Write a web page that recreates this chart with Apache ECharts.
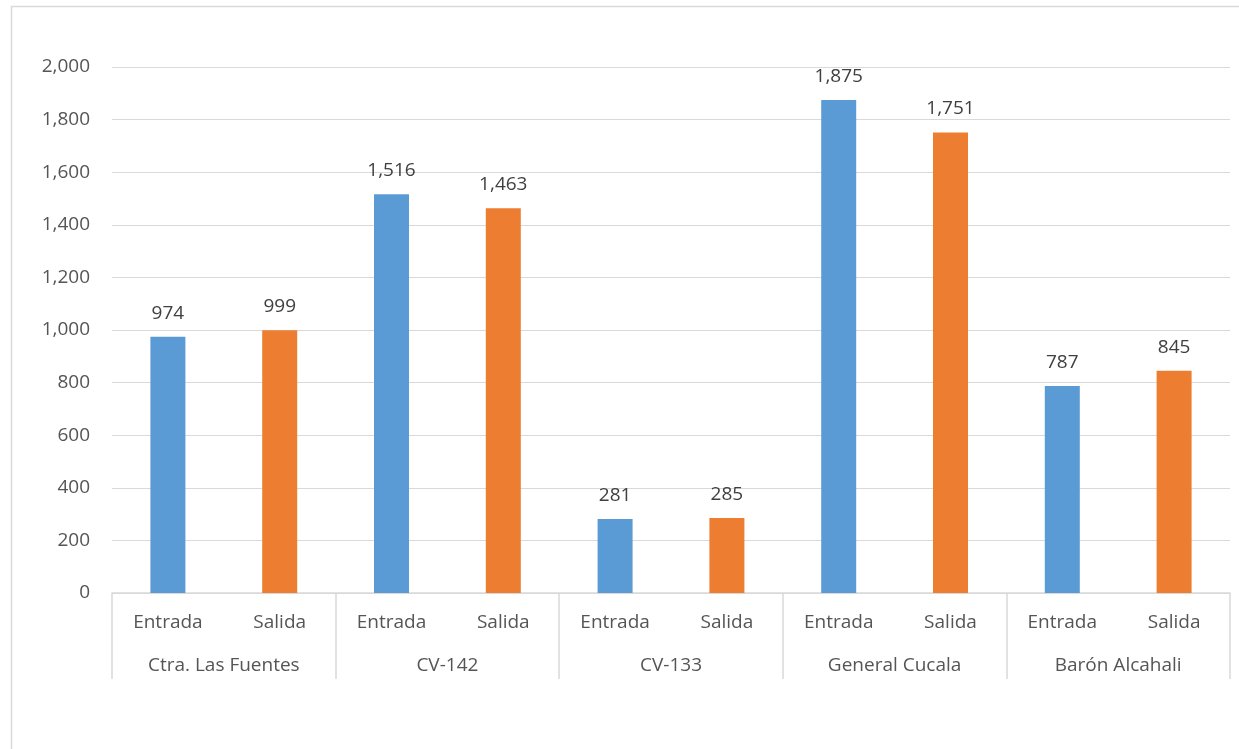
<!DOCTYPE html>
<html>
<head>
<meta charset="utf-8">
<script src="https://cdn.jsdelivr.net/npm/echarts@6/dist/echarts.min.js"></script>
<style>
html,body{margin:0;padding:0;background:#fff;}
#chart{width:1239px;height:749px;}
</style>
</head>
<body>
<div id="chart"></div>
<script>
const subCategories = ['Entrada','Salida','Entrada','Salida','Entrada','Salida','Entrada','Salida','Entrada','Salida'];
const groups = ['Ctra. Las Fuentes','CV-142','CV-133','General Cucala','Barón Alcahali'];
const values = [974, 999, 1516, 1463, 281, 285, 1875, 1751, 787, 845];
const yTicks = [0, 200, 400, 600, 800, 1000, 1200, 1400, 1600, 1800, 2000];

const BLUE = '#5B9BD5', ORANGE = '#ED7D31';
const FONT = '"Open Sans", sans-serif';
const fmt = v => Number(v).toLocaleString('en-US');

const chart = echarts.init(document.getElementById('chart'), null, {renderer: 'canvas'});
chart.setOption({
  animation: false,
  backgroundColor: '#fff',
  graphic: [{
    type: 'rect', silent: true,
    shape: {x: 11.5, y: 6.5, width: 1400, height: 900},
    style: {fill: 'none', stroke: '#D9D9D9', lineWidth: 1.5}
  }],
  grid: {left: 112, right: 9, top: 67, bottom: 156, containLabel: false},
  xAxis: [{
    type: 'category',
    data: subCategories,
    position: 'bottom',
    axisLine: {show: true, lineStyle: {color: '#D9D9D9', width: 1.5}},
    axisTick: {show: false},
    axisLabel: {interval: 0, margin: 20, color: '#555555', fontFamily: FONT, fontSize: 19}
  }, {
    type: 'category',
    data: groups,
    position: 'bottom',
    offset: 0,
    axisLine: {show: false},
    axisTick: {show: true, length: 86, interval: 0, lineStyle: {color: '#D9D9D9', width: 1.5}},
    axisLabel: {interval: 0, margin: 63, color: '#555555', fontFamily: FONT, fontSize: 19},
    splitLine: {show: false}
  }],
  yAxis: {
    type: 'value',
    min: yTicks[0], max: yTicks[yTicks.length - 1], interval: 200,
    axisLine: {show: false},
    axisTick: {show: false},
    splitLine: {show: true, lineStyle: {color: '#D9D9D9', width: 1.2}},
    axisLabel: {margin: 22, color: '#555555', fontFamily: FONT, fontSize: 19, formatter: fmt}
  },
  series: [{
    type: 'bar',
    xAxisIndex: 0,
    data: values,
    barWidth: 35,
    itemStyle: {color: p => (p.dataIndex % 2 === 0 ? BLUE : ORANGE)},
    label: {
      show: true, position: 'top', distance: 14,
      color: '#404040', fontFamily: FONT, fontSize: 19,
      formatter: p => fmt(p.value)
    }
  }]
});
</script>
</body>
</html>
